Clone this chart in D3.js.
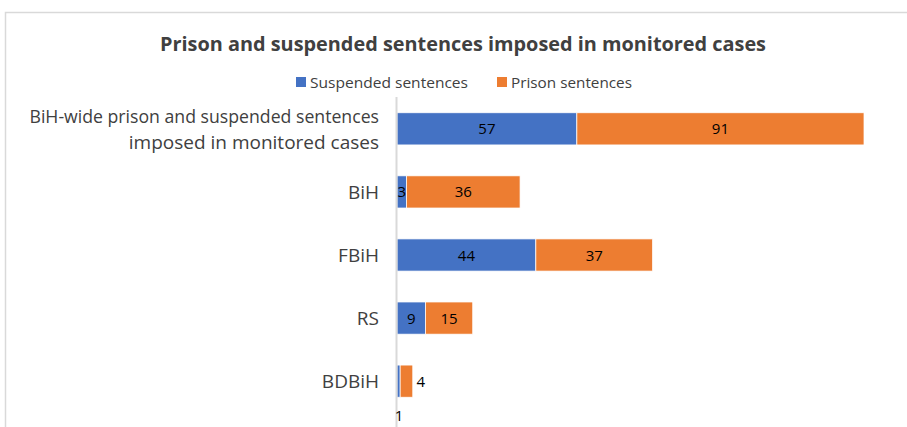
<!DOCTYPE html>
<html>
<head>
<meta charset="utf-8">
<script src="https://cdn.jsdelivr.net/npm/d3@7"></script>
<style>
  body { margin: 0; background: #fff; }
  text { font-family: "Open Sans", "Noto Sans", sans-serif; }
</style>
</head>
<body>
<div id="chart"></div>
<script>
const svgWidth = 907;
const svgHeight = 427;

// data
const categories = [
  ["BiH-wide prison and suspended sentences", "imposed in monitored cases"],
  ["BiH"],
  ["FBiH"],
  ["RS"],
  ["BDBiH"]
];
const suspended = [57, 3, 44, 9, 1];
const prison = [91, 36, 37, 15, 4];
const seriesNames = ["Suspended sentences", "Prison sentences"];
const colors = ["#4472c4", "#ed7d31"];

const margin = { top: 97, left: 397 };
const plotWidth = 467;
const plotHeight = 316;

const svg = d3.select("#chart")
  .append("svg")
  .attr("width", svgWidth)
  .attr("height", svgHeight);

// chart area frame (extends past the window on right/bottom)
svg.append("rect")
  .attr("x", 5.5).attr("y", 12.5)
  .attr("width", 1000).attr("height", 1000)
  .attr("fill", "none")
  .attr("stroke", "#d9d9d9")
  .attr("stroke-width", 1.5);

svg.append("text")
  .attr("x", 463).attr("y", 51)
  .attr("text-anchor", "middle")
  .style("font-size", "20px")
  .style("font-weight", "bold")
  .style("fill", "#404040")
  .attr("textLength", 606)
  .attr("lengthAdjust", "spacingAndGlyphs")
  .text("Prison and suspended sentences imposed in monitored cases");

// legend
const legend = svg.append("g");
const legendX = [296, 497];
const legendTextLen = [158, 121];
seriesNames.forEach((name, i) => {
  legend.append("rect")
    .attr("x", legendX[i]).attr("y", 77)
    .attr("width", 10).attr("height", 10)
    .attr("fill", colors[i]);
  legend.append("text")
    .attr("x", legendX[i] + 14).attr("y", 88)
    .style("font-size", "15px")
    .style("fill", "#404040")
    .attr("textLength", legendTextLen[i])
    .attr("lengthAdjust", "spacingAndGlyphs")
    .text(name);
});

const data = categories.map((c, i) => ({ label: c, suspended: suspended[i], prison: prison[i] }));

const x = d3.scaleLinear()
  .domain([0, 148])
  .range([0, plotWidth]);

const y = d3.scaleBand()
  .domain(d3.range(categories.length))
  .range([0, plotHeight])
  .paddingInner(0.49)
  .paddingOuter(0.25);

const chartGroup = svg.append("g")
  .attr("transform", `translate(${margin.left}, ${margin.top})`);

const stack = d3.stack().keys(["suspended", "prison"]);
const layers = stack(data);

layers.forEach((layer, li) => {
  chartGroup.selectAll(".bar" + li)
    .data(layer)
    .enter()
    .append("rect")
    .attr("x", d => x(d[0]))
    .attr("y", (d, i) => y(i))
    .attr("width", d => x(d[1]) - x(d[0]))
    .attr("height", y.bandwidth())
    .attr("fill", colors[li])
    .attr("stroke", "#fff")
    .attr("stroke-width", 0.75);
});

// vertical axis line
chartGroup.append("line")
  .attr("x1", -0.5).attr("x2", -0.5)
  .attr("y1", 0).attr("y2", svgHeight)
  .attr("stroke", "#d9d9d9")
  .attr("stroke-width", 2);

// category labels
const maxLabelWidth = 362;
const catLabels = chartGroup.selectAll(".cat")
  .data(categories)
  .enter()
  .append("text")
  .attr("class", "cat")
  .attr("text-anchor", "end")
  .style("font-size", "19px")
  .style("fill", "#404040");

catLabels.each(function(lines, i) {
  const t = d3.select(this);
  const cy = y(i) + y.bandwidth() / 2;
  const startY = cy - (lines.length - 1) * 13 + 7;
  lines.forEach((ln, j) => {
    const span = t.append("tspan")
      .attr("x", -18)
      .attr("y", startY + j * 26)
      .text(ln);
    // squeeze the long label so it fits like the original
    const w = span.node().getComputedTextLength();
    if (w > maxLabelWidth * 0.9) {
      span.attr("textLength", w * 0.93)
        .attr("lengthAdjust", "spacingAndGlyphs");
    }
  });
});

// value labels
layers.forEach((layer, li) => {
  chartGroup.selectAll(".val" + li)
    .data(layer)
    .enter()
    .append("text")
    .attr("x", (d, i) => {
      const w = x(d[1]) - x(d[0]);
      if (w < 15 && li === 1) return x(d[1]) + 8;
      if (w < 6) return x(d[0]) + 2;
      return (x(d[0]) + x(d[1])) / 2;
    })
    .attr("y", (d, i) => {
      const w = x(d[1]) - x(d[0]);
      if (w < 6 && li === 0) return y(i) + y.bandwidth() + 24;
      return y(i) + y.bandwidth() / 2 + 5.5;
    })
    .attr("text-anchor", "middle")
    .style("font-size", "15px")
    .style("fill", "#000")
    .text(d => d[1] - d[0]);
});
</script>
</body>
</html>
